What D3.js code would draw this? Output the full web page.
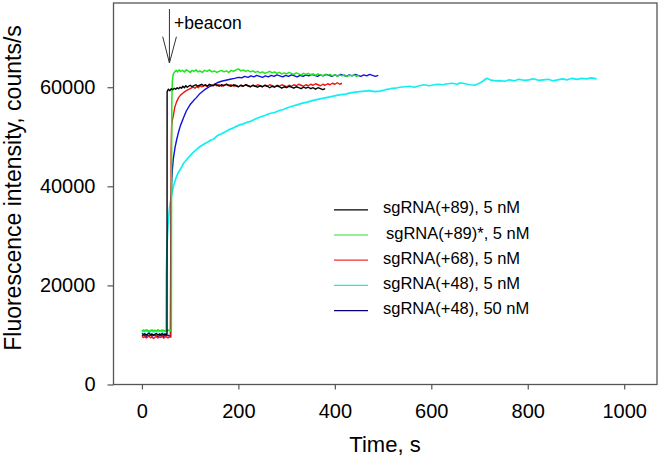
<!DOCTYPE html>
<html>
<head>
<meta charset="utf-8">
<script src="https://cdn.jsdelivr.net/npm/d3@7"></script>
<style>
  html, body { margin: 0; padding: 0; background: #fff; }
  svg { display: block; font-family: "Liberation Sans", Arial, sans-serif; }
</style>
</head>
<body>
<svg id="chart" width="661" height="466"></svg>
<script>
// ---------------- data ----------------
const xTicks = [0, 200, 400, 600, 800, 1000];
const yTicks = [0, 20000, 40000, 60000];
const seriesNames = ["sgRNA(+89), 5 nM", "sgRNA(+89)*, 5 nM", "sgRNA(+68), 5 nM", "sgRNA(+48), 5 nM", "sgRNA(+48), 50 nM"];

// [time (s), intensity (counts/s)]
const black89 = [[0,10300],[3,10100],[6,10250],[9,10000],[12,10200],[15,10350],[18,10050],[21,10200],[24,9950],[27,10150],[30,10300],[33,10000],[36,10200],[39,10100],[42,10300],[45,10050],[48,10200],[51,10100],[52,10150],[52.2,59100],
[55,59600],[58,59300],[61,59700],[64,59500],[67,59800],[70,59600],[73,59900],[76,59700],[79,60000],[82,59800],[85,60200],[88,59900],[91,60300],[94,60000],[97,60200],[100,60400],[104,60100],[108,60300],[112,60500],[116,60200],[120,60400],[124,60600],[128,60300],[132,60500],[136,60200],[140,60600],[144,60400],[148,60300],[152,60600],[156,60400],[160,60200],[165,60500],[170,60300],[175,60600],[180,60400],[185,60200],[190,60500],[195,60300],[200,60100],[205,60400],[210,60200],[215,60500],[220,60300],[225,60100],[230,60400],[235,60200],[240,60000],[245,60300],[250,60100],[255,60400],[260,60200],[265,59900],[270,60200],[275,60000],[280,60300],[285,60100],[290,59800],[295,60100],[300,59900],[305,60200],[310,60000],[315,59800],[320,60100],[325,59900],[330,59700],[335,60000],[340,59800],[345,60000],[350,59700],[355,59900],[360,59600],[365,59900],[370,59700],[375,59500],[380,59700]];

const green89s = [[0,10800],[3,11000],[6,10850],[9,11050],[12,10900],[15,10750],[18,10950],[21,11000],[24,10850],[27,10950],[30,10800],[33,11050],[36,10900],[39,10850],[42,11000],[45,10900],[48,10800],[51,10950],[54,10900],[57,11000],[60,10850],[61,10900],[61.5,45000],[62,57000],[63,61200],[65,62700],[68,63100],[71,63400],[74,63100],[77,63500],[80,63200],[84,63400],[88,63100],[92,63500],[96,63300],[100,63000],[104,63400],[108,63200],[112,63500],[116,63100],[120,63300],[125,63000],[130,63400],[135,63200],[140,63500],[145,63100],[150,63300],[155,63000],[160,63200],[165,63400],[170,63100],[175,63300],[180,63000],[185,63400],[190,63200],[195,63500],[200,63700],[205,63300],[210,63500],[215,63200],[220,63400],[225,63100],[230,63300],[235,63000],[240,63200],[245,62900],[250,63100],[255,62800],[260,63000],[265,63200],[270,62900],[275,63100],[280,62800],[285,63000],[290,62700],[295,62900],[300,62700],[305,63000],[310,62800],[315,62600],[320,62900],[325,62700],[330,62500],[335,62800],[340,62600],[345,62800],[350,62500],[355,62700],[360,62400],[365,62700],[370,62500],[375,62300],[380,62600],[385,62400],[390,62600],[395,62300],[400,62500],[405,62200],[410,62500],[415,62300],[420,62500],[425,62200],[430,62400],[435,62300],[440,62500],[445,62200],[450,62400]];

const red68 = [[0,9700],[3,9500],[6,9650],[9,9400],[12,9600],[15,9750],[18,9450],[21,9600],[24,9300],[27,9550],[30,9700],[33,9400],[36,9600],[39,9500],[42,9700],[45,9350],[48,9550],[51,9650],[54,9400],[57,9600],[60,9550],[60.5,47000],[61.5,52000],[63,53300],[65,54200],[68,55900],[72,57100],[76,57900],[80,58400],[86,58900],[92,59300],[100,59700],[106,60000],[110,59800],[113,60100],[117,59900],[120,60300],[125,60100],[130,60400],[135,60200],[140,60500],[145,60300],[150,60600],[155,60300],[160,60500],[165,60200],[170,60400],[175,60600],[180,60300],[185,60500],[190,60200],[195,60400],[200,60100],[205,60400],[210,60200],[215,60500],[220,60300],[225,60100],[230,60400],[235,60200],[240,60500],[245,60300],[250,60100],[255,60400],[260,60200],[265,60500],[270,60300],[275,60100],[280,60400],[285,60200],[290,60500],[295,60300],[300,60100],[305,60400],[310,60200],[315,60500],[320,60300],[325,60600],[330,60400],[335,60200],[340,60500],[345,60300],[350,60600],[355,60400],[360,60700],[365,60500],[370,60300],[375,60600],[380,60400],[385,60700],[390,60500],[395,60800],[400,60600],[405,60900],[410,60600],[415,60800]];

const cyan48 = [[0,10600],[3,10800],[6,10650],[9,10850],[12,10700],[15,10550],[18,10750],[21,10800],[24,10600],[27,10750],[30,10850],[33,10650],[36,10700],[39,10800],[42,10600],[45,10750],[48,10700],[50,10650],[50.5,22000],[52,28000],[54,32000],[57,35500],[61,38000],[65,39900],[70,41500],[75,42700],[80,43500],[86,44600],[92,45300],[100,46200],[107,46900],[113,47400],[120,48000],[128,48500],[136,48900],[142,49300],[148,49500],[156,50200],[165,50600],[175,51100],[182,51500],[190,51800],[200,52300],[210,52600],[217,52900],[225,53100],[235,53600],[245,54000],[255,54300],[265,54700],[275,54900],[285,55300],[293,55500],[303,55900],[313,56200],[323,56500],[333,56800],[343,57000],[353,57300],[362,57500],[372,57700],[382,57900],[392,58100],[402,58300],[412,58500],[422,58600],[432,58850],[442,59000],[452,59100],[462,59200],[472,59300],[482,59100],[494,59200],[505,59500],[515,59700],[525,59800],[535,60000],[545,60100],[555,60200],[565,60000],[575,60300],[585,60500],[595,60300],[604,60450],[614,60600],[624,60500],[634,60700],[644,60800],[654,60600],[660,60900],[670,60700],[680,60500],[690,60400],[700,60800],[708,61300],[715,61800],[722,61500],[732,61300],[742,61350],[752,61200],[762,61500],[772,61300],[782,61600],[792,61400],[802,61500],[812,61700],[822,61400],[832,61500],[842,61600],[852,61300],[862,61500],[872,61700],[882,61500],[892,61800],[902,61600],[912,61800],[922,61700],[932,61900],[943,61700]];

const blue48 = [[0,9800],[3,10000],[6,9850],[9,9700],[12,9950],[15,9800],[18,10050],[21,9750],[24,9900],[27,10000],[30,9800],[33,9650],[36,9900],[39,9850],[42,10000],[45,9700],[48,9900],[51,9800],[54,9950],[57,9750],[59,9900],[59.5,22000],[60,33000],[60.5,37000],[61.5,40500],[63,43200],[65,45500],[67,46800],[69,48000],[72,49400],[76,51000],[80,52300],[86,53800],[92,55200],[100,56500],[107,57300],[113,57900],[120,58700],[125,59100],[130,59500],[135,59800],[140,60100],[148,60500],[156,60900],[165,61200],[174,61400],[183,61600],[192,61800],[200,62000],[207,61900],[213,62200],[220,62000],[226,62300],[232,62100],[238,62400],[244,62200],[250,62000],[256,62300],[262,62100],[268,62400],[274,62200],[280,62500],[286,62300],[292,62100],[298,62400],[304,62200],[310,62500],[316,62300],[322,62100],[328,62400],[334,62200],[340,62500],[346,62300],[352,62600],[358,62400],[364,62200],[370,62500],[376,62300],[382,62600],[388,62400],[394,62200],[400,62500],[406,62300],[412,62600],[418,62400],[424,62200],[430,62500],[436,62300],[442,62600],[448,62400],[454,62200],[460,62500],[466,62300],[472,62600],[478,62400],[484,62200],[490,62400]];

// ---------------- drawing ----------------
const svg = d3.select("#chart");
const x = d3.scaleLinear().domain([-60, 1068]).range([113, 657]);
const y = d3.scaleLinear().domain([0, 77000]).range([384.5, 3]);

const seriesData = [black89, green89s, red68, cyan48, blue48];
const lineColors = ["#000000", "#1ee61e", "#f01414", "#10f0f0", "#1010e0"];
const lineWidths = [1.4, 1.5, 1.4, 1.7, 1.4];
const legendColors = ["#000000", "#30e030", "#f03030", "#20e8e8", "#000080"];
const drawOrder = [3, 4, 2, 1, 0];

const line = d3.line().x(d => x(d[0])).y(d => y(d[1]));

drawOrder.forEach(i => {
  svg.append("path")
    .datum(seriesData[i])
    .attr("fill", "none")
    .attr("stroke", lineColors[i])
    .attr("stroke-width", lineWidths[i])
    .attr("stroke-linejoin", "round")
    .attr("d", line);
});

// frame
svg.append("rect")
  .attr("x", 113.5).attr("y", 3)
  .attr("width", 543.5).attr("height", 381.5)
  .attr("fill", "none").attr("stroke", "#555").attr("stroke-width", 1.3);

// axes
const xAxis = svg.append("g").attr("transform", "translate(0,384.5)")
  .call(d3.axisBottom(x).tickValues(xTicks).tickSize(5).tickPadding(14).tickFormat(d3.format("d")));
const yAxis = svg.append("g").attr("transform", "translate(113.5,0)")
  .call(d3.axisLeft(y).tickValues(yTicks).tickSize(6).tickPadding(12).tickFormat(d3.format("d")));
[xAxis, yAxis].forEach(g => {
  g.select(".domain").remove();
  g.selectAll(".tick line").attr("stroke", "#555").attr("stroke-width", 1.2);
  g.selectAll(".tick text").attr("fill", "#000").style("font-size", "20px")
    .style("font-family", "'Liberation Sans', Arial, sans-serif");
});

// axis titles
svg.append("text").attr("x", 385).attr("y", 452).attr("text-anchor", "middle")
  .style("font-size", "22px").text("Time, s");
svg.append("text").attr("transform", "translate(21,188) rotate(-90)")
  .attr("text-anchor", "middle").style("font-size", "23px")
  .text("Fluorescence intensity, counts/s");

// annotation arrow
const arrowX = x(57);
const ag = svg.append("g").attr("stroke", "#333").attr("stroke-width", 1).attr("fill", "none");
ag.append("line").attr("x1", arrowX).attr("x2", arrowX).attr("y1", 9).attr("y2", 63);
ag.append("path").attr("d", `M${arrowX - 6.7},36.7 L${arrowX},63 L${arrowX + 7},36.7`);
svg.append("text").attr("x", 174).attr("y", 29).style("font-size", "17.5px").text("+beacon");

// legend
const legend = svg.append("g");
seriesNames.forEach((name, i) => {
  const base = 213.3 + i * 25.2;
  legend.append("line").attr("x1", 334).attr("x2", 368)
    .attr("y1", base - 3.5).attr("y2", base - 3.5)
    .attr("stroke", legendColors[i]).attr("stroke-width", 1.2);
  legend.append("text").attr("x", i === 1 ? 386 : 383).attr("y", base)
    .style("font-size", "16.5px").text(name);
});
</script>
</body>
</html>
